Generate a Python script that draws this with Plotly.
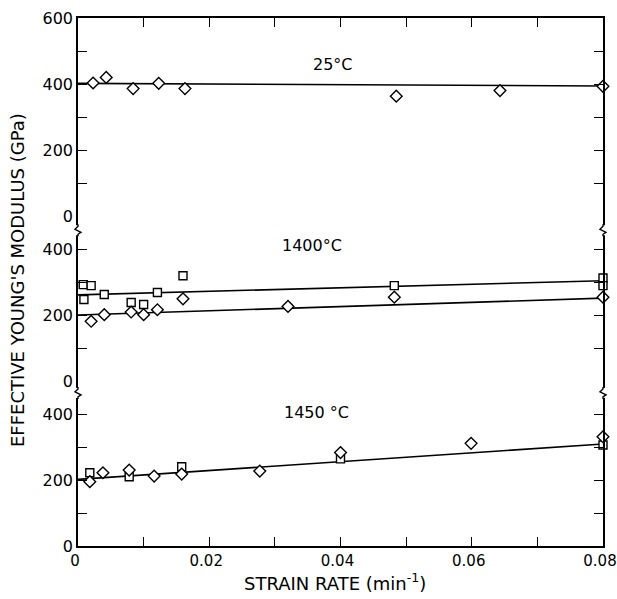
import plotly.graph_objects as go

# ---------------- data ----------------
# 25 C panel (diamonds)
x_25 = [0.0023, 0.0043, 0.0084, 0.0123, 0.0163, 0.0485, 0.0643, 0.080]
e_25 = [403, 420, 386, 402, 386, 363, 380, 393]

# 1400 C panel
x_1400_sq = [0.0008, 0.0020, 0.0009, 0.0040, 0.0081, 0.0100, 0.0121, 0.0160, 0.0482, 0.080, 0.080]
e_1400_sq = [292, 289, 247, 262, 238, 232, 268, 319, 289, 312, 289]
x_1400_di = [0.0020, 0.0040, 0.0081, 0.0100, 0.0121, 0.0160, 0.0320, 0.0482, 0.080]
e_1400_di = [181, 201, 209, 201, 216, 249, 226, 254, 254]

# 1450 C panel
x_1450_sq = [0.0018, 0.0078, 0.0158, 0.0400, 0.080]
e_1450_sq = [222, 210, 240, 264, 306]
x_1450_di = [0.0018, 0.0038, 0.0078, 0.0116, 0.0158, 0.0277, 0.0400, 0.0599, 0.080]
e_1450_di = [195, 222, 230, 212, 218, 227, 283, 311, 331]

# fitted lines
fit_x = [0.0, 0.08]
fit_25 = [402, 394]
fit_1400_sq = [261, 304]
fit_1400_di = [200, 251]
fit_1450 = [202, 309]

# ticks
x_tickvals = [0, 0.01, 0.02, 0.03, 0.04, 0.05, 0.06, 0.07, 0.08]
x_ticktext = ["0", "", "0.02", "", "0.04", "", "0.06", "", "0.08"]
y_tickvals_500 = [0, 100, 200, 300, 400]
y_ticktext_500 = ["0", "", "200", "", "400"]
y_tickvals_600 = [0, 100, 200, 300, 400, 500, 600]
y_ticktext_600 = ["0", "", "200", "", "400", "", "600"]

panel_labels = ["25°C", "1400°C", "1450 °C"]
label_x = [0.0389, 0.0357, 0.0364]
label_y = [458, 412, 406]
label_axes = ["y3", "y2", "y"]

FONT = "DejaVu Sans"
BLACK = "black"

def line_trace(x, y, xa, ya):
    return go.Scatter(x=x, y=y, mode="lines", xaxis=xa, yaxis=ya,
                      line=dict(color=BLACK, width=1.6), showlegend=False,
                      hoverinfo="skip")

def marker_trace(x, y, xa, ya, symbol, size):
    return go.Scatter(x=x, y=y, mode="markers", xaxis=xa, yaxis=ya,
                      marker=dict(symbol=symbol, size=size, color="white",
                                  line=dict(color=BLACK, width=1.4)),
                      cliponaxis=False, showlegend=False)

fig = go.Figure()
# top panel (25 C)
fig.add_trace(line_trace(fit_x, fit_25, "x3", "y3"))
fig.add_trace(marker_trace(x_25, e_25, "x3", "y3", "diamond", 9))
# middle panel (1400 C)
fig.add_trace(line_trace(fit_x, fit_1400_sq, "x2", "y2"))
fig.add_trace(line_trace(fit_x, fit_1400_di, "x2", "y2"))
fig.add_trace(marker_trace(x_1400_sq, e_1400_sq, "x2", "y2", "square", 8))
fig.add_trace(marker_trace(x_1400_di, e_1400_di, "x2", "y2", "diamond", 9))
# bottom panel (1450 C)
fig.add_trace(line_trace(fit_x, fit_1450, "x", "y"))
fig.add_trace(marker_trace(x_1450_sq, e_1450_sq, "x", "y", "square", 8))
fig.add_trace(marker_trace(x_1450_di, e_1450_di, "x", "y", "diamond", 9))

tickfont = dict(family=FONT, size=16, color=BLACK)

common_y = dict(showline=True, linecolor=BLACK, linewidth=1.6, mirror="ticks",
                ticks="inside", ticklen=9, tickwidth=1.4, tickcolor=BLACK,
                showgrid=False, zeroline=False, tickfont=tickfont, fixedrange=True,
                automargin=False)

fig.update_layout(
    width=617, height=599,
    margin=dict(l=78, r=14, t=18, b=53, autoexpand=False),
    paper_bgcolor="white", plot_bgcolor="white",
    xaxis=dict(domain=[0, 1], anchor="y", range=[0, 0.08],
               tickvals=x_tickvals, ticktext=x_ticktext,
               showline=True, linecolor=BLACK, linewidth=1.6,
               ticks="inside", ticklen=9, tickwidth=1.4, tickcolor=BLACK,
               showgrid=False, zeroline=False,
               tickfont=dict(family=FONT, size=15, color=BLACK),
               ticklabelshift=-3,
               ticklabeloverflow="allow", automargin=False),
    xaxis2=dict(domain=[0, 1], anchor="y2", matches="x", range=[0, 0.08],
                visible=False, automargin=False),
    xaxis3=dict(domain=[0, 1], anchor="y3", matches="x", range=[0, 0.08],
                side="top", tickvals=x_tickvals, showticklabels=False,
                showline=True, linecolor=BLACK, linewidth=1.6,
                ticks="inside", ticklen=9, tickwidth=1.4, tickcolor=BLACK,
                showgrid=False, zeroline=False, automargin=False),
    yaxis=dict(domain=[0, 0.3125], anchor="x", range=[0, 500],
               tickvals=y_tickvals_500, ticktext=y_ticktext_500, **common_y),
    yaxis2=dict(domain=[0.3125, 0.625], anchor="x2", range=[0, 500],
                tickvals=y_tickvals_500, ticktext=y_ticktext_500, **common_y),
    yaxis3=dict(domain=[0.625, 1], anchor="x3", range=[0, 600],
                tickvals=y_tickvals_600, ticktext=y_ticktext_600, **common_y),
)

# panel labels
for txt, lx, ly, ya in zip(panel_labels, label_x, label_y, label_axes):
    fig.add_annotation(x=lx, y=ly, xref="x", yref=ya, text=txt, showarrow=False,
                       xanchor="center", yanchor="middle",
                       font=dict(family=FONT, size=16, color=BLACK))

# axis titles
fig.add_annotation(x=-0.114, y=0.504, xref="paper", yref="paper",
                   xanchor="center", yanchor="middle",
                   text="EFFECTIVE YOUNG'S MODULUS (GPa)", textangle=-90,
                   showarrow=False, font=dict(family=FONT, size=18, color=BLACK))
fig.add_annotation(x=0.49, y=-0.068, xref="paper", yref="paper",
                   xanchor="center", yanchor="middle",
                   text="STRAIN RATE (min<sup>-1</sup>)",
                   showarrow=False, font=dict(family=FONT, size=18, color=BLACK))

# axis break marks (squiggles) on left and right axes
for xa in [0, 1]:
    for ya in [0.598, 0.29]:
        fig.add_shape(type="rect", xref="paper", yref="paper",
                      xsizemode="pixel", ysizemode="pixel",
                      xanchor=xa, yanchor=ya, x0=-2.5, x1=2.5, y0=-5, y1=5,
                      line=dict(width=0), fillcolor="white", layer="above")
        fig.add_shape(type="path", xref="paper", yref="paper",
                      xsizemode="pixel", ysizemode="pixel",
                      xanchor=xa, yanchor=ya,
                      path="M 0,6 L 0,4 L -3,1 L 3,-2 L 0,-4 L 0,-6",
                      line=dict(color=BLACK, width=1.4), layer="above")

fig.write_html("out.html")
